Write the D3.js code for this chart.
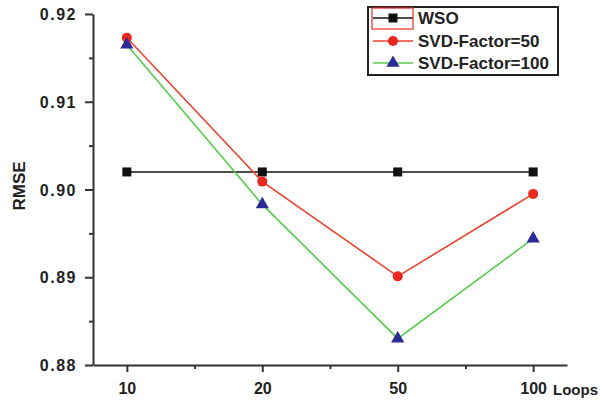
<!DOCTYPE html>
<html><head><meta charset="utf-8">
<script src="https://cdn.jsdelivr.net/npm/d3@7/dist/d3.min.js"></script>
<style>body{margin:0;background:#fff;} svg{display:block;font-family:Arial,"Liberation Sans",sans-serif;}</style>
</head><body>
<svg id="c" width="602" height="401"></svg>
<script>
const categories = ["10", "20", "50", "100"];
const wso = [0.9020, 0.9020, 0.9020, 0.9020];
const svd50 = [0.9173, 0.9009, 0.8901, 0.8995];
const svd100 = [0.9165, 0.8983, 0.8830, 0.8944];
const yTicks = [0.88, 0.89, 0.90, 0.91, 0.92];
const yMinorTicks = [0.885, 0.895, 0.905, 0.915];
const seriesNames = ["WSO", "SVD-Factor=50", "SVD-Factor=100"];

const svg = d3.select("#c");
const x = d3.scaleLinear().domain([-0.25, 3.25]).range([93, 567]);
const y = d3.scaleLinear().domain([0.88, 0.92]).range([365, 14]);
const axisColor = "#333";

// Y axis
const yAxis = svg.append("g").attr("transform", "translate(93,0)")
  .call(d3.axisLeft(y).tickValues(yTicks).tickFormat(d3.format(".2f")).tickSize(8).tickSizeOuter(0));
yAxis.select(".domain").attr("stroke", axisColor).attr("stroke-width", 2);
yAxis.selectAll(".tick line").attr("stroke", axisColor).attr("stroke-width", 2);
yAxis.selectAll(".tick text").attr("font-size", 16).attr("font-weight", "bold")
  .attr("fill", "#222").attr("letter-spacing", "1.5px").attr("x", -16).attr("dy", "0.35em");
const yMinor = svg.append("g").attr("transform", "translate(93,0)")
  .call(d3.axisLeft(y).tickValues(yMinorTicks).tickSize(4).tickFormat(""));
yMinor.select(".domain").remove();
yMinor.selectAll(".tick line").attr("stroke", axisColor).attr("stroke-width", 2);

// X axis
const xAxis = svg.append("g").attr("transform", "translate(0,365)")
  .call(d3.axisBottom(x).tickValues([0,1,2,3]).tickFormat(i => categories[i]).tickSize(7).tickSizeOuter(0));
xAxis.select(".domain").attr("stroke", axisColor).attr("stroke-width", 2);
xAxis.selectAll(".tick line").attr("stroke", axisColor).attr("stroke-width", 2);
xAxis.selectAll(".tick text").attr("font-size", 16).attr("font-weight", "bold").attr("fill", "#222").attr("y", 18);
const xMinor = svg.append("g").attr("transform", "translate(0,365)")
  .call(d3.axisBottom(x).tickValues([0.5,1.5,2.5]).tickSize(4).tickFormat(""));
xMinor.select(".domain").remove();
xMinor.selectAll(".tick line").attr("stroke", axisColor).attr("stroke-width", 2);

svg.append("text").attr("x", 553).attr("y", 395).attr("font-size", 15).attr("font-weight", "bold")
  .attr("fill", "#222").text("Loops");
svg.append("text").attr("transform", "translate(25,186) rotate(-90)").attr("text-anchor", "middle")
  .attr("font-size", 17).attr("font-weight", "bold").attr("fill", "#222").text("RMSE");

const line = d3.line().x((d, i) => x(i)).y(d => y(d));
const series = [
  {vals: wso, color: "#111", marker: "square", mcolor: "#111"},
  {vals: svd50, color: "#f0402e", marker: "circle", mcolor: "#e8281e"},
  {vals: svd100, color: "#55cc4a", marker: "triangle", mcolor: "#2b2a96"}
];
function drawMarker(g, type, cx, cy, color) {
  if (type === "square") g.append("rect").attr("x", cx - 4.5).attr("y", cy - 4.5).attr("width", 9).attr("height", 9).attr("fill", color);
  else if (type === "circle") g.append("circle").attr("cx", cx).attr("cy", cy).attr("r", 5).attr("fill", color);
  else g.append("path").attr("d", d3.symbol(d3.symbolTriangle, 75)()).attr("transform", `translate(${cx},${cy})`).attr("fill", color);
}
series.forEach(s => {
  svg.append("path").attr("d", line(s.vals)).attr("fill", "none").attr("stroke", s.color).attr("stroke-width", 1.6);
});
series.forEach(s => {
  const g = svg.append("g");
  s.vals.forEach((v, i) => drawMarker(g, s.marker, x(i), y(v), s.mcolor));
});

// Legend
const lg = svg.append("g");
lg.append("rect").attr("x", 368).attr("y", 7).attr("width", 190).attr("height", 68)
  .attr("fill", "#fff").attr("stroke", "#222").attr("stroke-width", 2);
const rowsY = [18, 41, 63];
series.forEach((s, i) => {
  lg.append("line").attr("x1", 373).attr("x2", 413).attr("y1", rowsY[i]).attr("y2", rowsY[i])
    .attr("stroke", s.color).attr("stroke-width", 1.6);
  drawMarker(lg, s.marker, 393, rowsY[i], s.mcolor);
  lg.append("text").attr("x", 418).attr("y", rowsY[i]).attr("dy", "0.36em").attr("font-size", 17)
    .attr("font-weight", "bold").attr("fill", "#222").text(seriesNames[i]);
});
lg.append("rect").attr("x", 372).attr("y", 8).attr("width", 41).attr("height", 21)
  .attr("fill", "none").attr("stroke", "#e8281e").attr("stroke-width", 1.2);
</script>
</body></html>
